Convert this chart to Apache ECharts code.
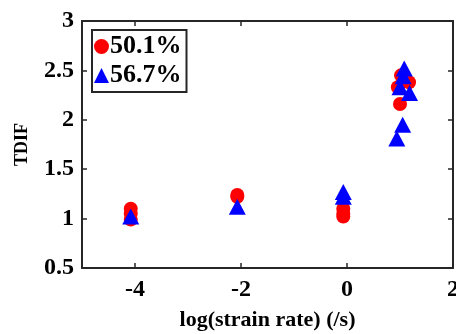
<!DOCTYPE html>
<html>
<head>
<meta charset="utf-8">
<script src="https://cdn.jsdelivr.net/npm/echarts@6/dist/echarts.min.js"></script>
<style>
  html, body { margin: 0; padding: 0; background: #fff; }
  #chart { width: 456px; height: 334px; }
</style>
</head>
<body>
<div id="chart"></div>
<script>
// TDIF vs log strain rate, two saturation levels
const seriesNames = ['50.1%', '56.7%'];

const rateLow = [-4.08, -4.08, -4.08, -2.07, -2.07, -0.07, -0.07, -0.07, 1.02, 1.17, 0.96, 1.0];
const tdifLow = [1.10, 1.05, 0.99, 1.24, 1.22, 1.10, 1.05, 1.02, 2.45, 2.38, 2.33, 2.16];

const rateHigh = [-4.08, -2.07, -0.07, -0.07, 1.08, 1.06, 1.0, 1.18, 1.05, 0.94];
const tdifHigh = [1.02, 1.12, 1.27, 1.22, 2.52, 2.44, 2.33, 2.27, 1.95, 1.81];

const xTicks = [-4, -2, 0, 2];

const font = "'Liberation Serif', 'Times New Roman', serif";
const axisColor = '#262626';

const pairs = (xs, ys) => xs.map((x, i) => [x, ys[i]]);

const chart = echarts.init(document.getElementById('chart'));

const boxAxis = {
  axisLine: { show: true, onZero: false, lineStyle: { color: axisColor, width: 2 } },
  splitLine: { show: false }
};

chart.setOption({
  animation: false,
  grid: { left: 82, right: 3, top: 21, bottom: 66, outerBoundsMode: 'none', containLabel: false },
  legend: {
    orient: 'vertical',
    left: 92,
    top: 30,
    padding: [3, 5, 3, 2],
    itemGap: 2,
    itemWidth: 15,
    itemHeight: 15,
    borderColor: axisColor,
    borderWidth: 2,
    backgroundColor: '#fff',
    textStyle: {
      fontFamily: font, fontWeight: 'bold', fontSize: 26, color: '#000',
      lineHeight: 27, padding: [0, 0, 0, -4]
    },
    data: seriesNames
  },
  xAxis: [
    Object.assign({}, boxAxis, {
      type: 'value', min: -5, max: 2,
      name: 'log(strain rate) (/s)',
      nameLocation: 'middle',
      nameGap: 41,
      nameTextStyle: { fontFamily: font, fontWeight: 'bold', fontSize: 22, color: '#000' },
      axisTick: { inside: true, length: 5, customValues: xTicks, lineStyle: { color: axisColor, width: 1.5 } },
      axisLabel: {
        customValues: xTicks, margin: 10,
        fontFamily: font, fontWeight: 'bold', fontSize: 24, color: '#000'
      }
    }),
    Object.assign({}, boxAxis, {
      type: 'value', min: -5, max: 2, position: 'top',
      axisTick: { inside: true, length: 5, customValues: xTicks, lineStyle: { color: axisColor, width: 1.5 } },
      axisLabel: { show: false }
    })
  ],
  yAxis: [
    Object.assign({}, boxAxis, {
      type: 'value', min: 0.5, max: 3, interval: 0.5,
      name: 'TDIF',
      nameLocation: 'middle',
      nameGap: 51,
      nameTextStyle: { fontFamily: font, fontWeight: 'bold', fontSize: 18, color: '#000' },
      axisTick: { inside: true, length: 5, lineStyle: { color: axisColor, width: 1.5 } },
      axisLabel: { margin: 8, fontFamily: font, fontWeight: 'bold', fontSize: 24, color: '#000' }
    }),
    Object.assign({}, boxAxis, {
      type: 'value', min: 0.5, max: 3, interval: 0.5, position: 'right',
      axisTick: { inside: true, length: 5, lineStyle: { color: axisColor, width: 1.5 } },
      axisLabel: { show: false }
    })
  ],
  series: [
    {
      name: seriesNames[0],
      type: 'scatter',
      symbol: 'circle',
      symbolSize: 14,
      itemStyle: { color: '#ff0000', opacity: 1 },
      data: pairs(rateLow, tdifLow)
    },
    {
      name: seriesNames[1],
      type: 'scatter',
      symbol: 'triangle',
      symbolSize: [17, 16],
      itemStyle: { color: '#0000ff', opacity: 1 },
      data: pairs(rateHigh, tdifHigh)
    }
  ]
});
</script>
</body>
</html>
